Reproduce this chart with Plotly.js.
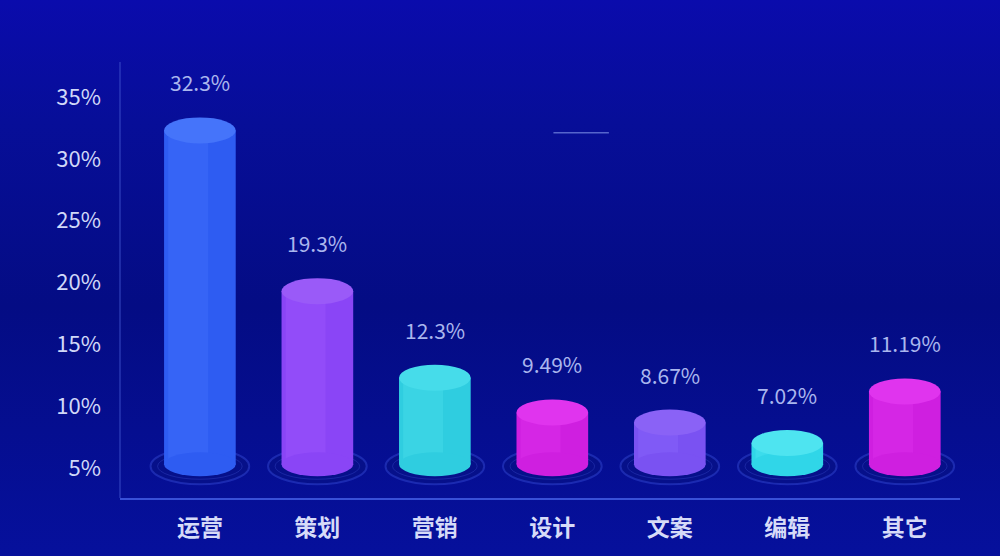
<!DOCTYPE html>
<html>
<head>
<meta charset="utf-8">
<script src="https://cdn.plot.ly/plotly-3.0.1.min.js"></script>
<style>
html,body{margin:0;padding:0;width:1000px;height:556px;overflow:hidden;
background:linear-gradient(180deg,#0a0bac 0%,#070e98 22%,#040c84 55%,#06109c 100%);}
#chart{width:1000px;height:556px;}
</style>
</head>
<body>
<div id="chart"></div>
<script>
const categories = ['运营','策划','营销','设计','文案','编辑','其它'];
const values = [32.3, 19.3, 12.3, 9.49, 8.67, 7.02, 11.19];
const valueLabels = ['32.3%','19.3%','12.3%','9.49%','8.67%','7.02%','11.19%'];
const tickValues = [5,10,15,20,25,30,35];
const tickLabels = ['5%','10%','15%','20%','25%','30%','35%'];
const baseValue = 5.3;

const sideColors = ['#2e5cf2','#8a45f6','#2fcde0','#cf1fe0','#7a52f2','#30d6e8','#cf1fe0'];
const lightColors = ['#4a78ff','#a45cff','#55e4f0','#e538f2','#906cff','#58ecf6','#e538f2'];
const topColors = ['#4574fa','#9a5af8','#46dcea','#e034ee','#8a62f6','#4ee4f0','#e034ee'];

const xs = categories.map((c,i)=>i);
const heights = values.map(v=>v-baseValue);

const traces = [
  {type:'bar', x:xs, y:heights, base:values.map(()=>baseValue), width:0.61,
   marker:{color:sideColors, line:{width:0}}, hoverinfo:'skip', showlegend:false},
  {type:'bar', x:xs.map(x=>x-0.1), y:heights, base:values.map(()=>baseValue), width:0.34,
   marker:{color:lightColors, opacity:0.3, line:{width:0}}, hoverinfo:'skip', showlegend:false}
];

const shapes = [];
xs.forEach((x,i)=>{
  shapes.push({type:'circle', xref:'x', yref:'y', ysizemode:'pixel', yanchor:baseValue,
    x0:x-0.42, x1:x+0.42, y0:-20, y1:16, line:{color:'rgba(50,70,210,0.5)', width:2},
    fillcolor:'rgba(10,20,120,0.35)', layer:'below'});
  shapes.push({type:'circle', xref:'x', yref:'y', ysizemode:'pixel', yanchor:baseValue,
    x0:x-0.36, x1:x+0.36, y0:-15, y1:11, line:{color:'rgba(70,90,220,0.3)', width:1},
    fillcolor:'rgba(0,0,0,0)', layer:'below'});
  shapes.push({type:'circle', xref:'x', yref:'y', ysizemode:'pixel', yanchor:baseValue,
    x0:x-0.305, x1:x+0.305, y0:-12, y1:12, line:{width:0}, fillcolor:sideColors[i], layer:'above'});
  shapes.push({type:'circle', xref:'x', yref:'y', ysizemode:'pixel', yanchor:values[i],
    x0:x-0.305, x1:x+0.305, y0:-13, y1:13, line:{width:0}, fillcolor:topColors[i], layer:'above'});
});
shapes.push({type:'line', xref:'paper', yref:'paper', x0:0, x1:0, y0:0, y1:1,
  line:{color:'rgba(70,90,210,0.55)', width:1.5}});
shapes.push({type:'line', xref:'paper', yref:'paper', x0:0.516, x1:0.582, y0:0.838, y1:0.838,
  line:{color:'rgba(140,160,240,0.6)', width:1.5}});

const annotations = xs.map((x,i)=>({
  x:x, y:values[i], xref:'x', yref:'y', text:valueLabels[i], showarrow:false,
  yshift:48, font:{family:'Noto Sans CJK SC, Noto Sans, sans-serif', size:21, color:'#aab6ee'}
}));

const layout = {
  width:1000, height:556,
  margin:{l:120, r:40, t:62, b:58},
  paper_bgcolor:'rgba(0,0,0,0)', plot_bgcolor:'rgba(0,0,0,0)',
  barmode:'overlay',
  showlegend:false,
  xaxis:{range:[-0.68,6.47], tickvals:xs, ticktext:categories, showgrid:false, zeroline:false,
    showline:true, linecolor:'#3850d8', linewidth:2, ticks:'',
    tickfont:{family:'Noto Sans CJK SC, sans-serif', size:23, color:'#d6dbf8', weight:'bold'},
    ticklabelstandoff:8},
  yaxis:{range:[2.57,37.83], tickvals:tickValues, ticktext:tickLabels, showgrid:false, zeroline:false,
    showline:false, ticks:'',
    tickfont:{family:'Noto Sans CJK SC, Noto Sans, sans-serif', size:22, color:'#d0d8f8'},
    ticklabelstandoff:18},
  shapes:shapes,
  annotations:annotations
};

Plotly.newPlot('chart', traces, layout, {displayModeBar:false, staticPlot:true});
</script>
</body>
</html>
